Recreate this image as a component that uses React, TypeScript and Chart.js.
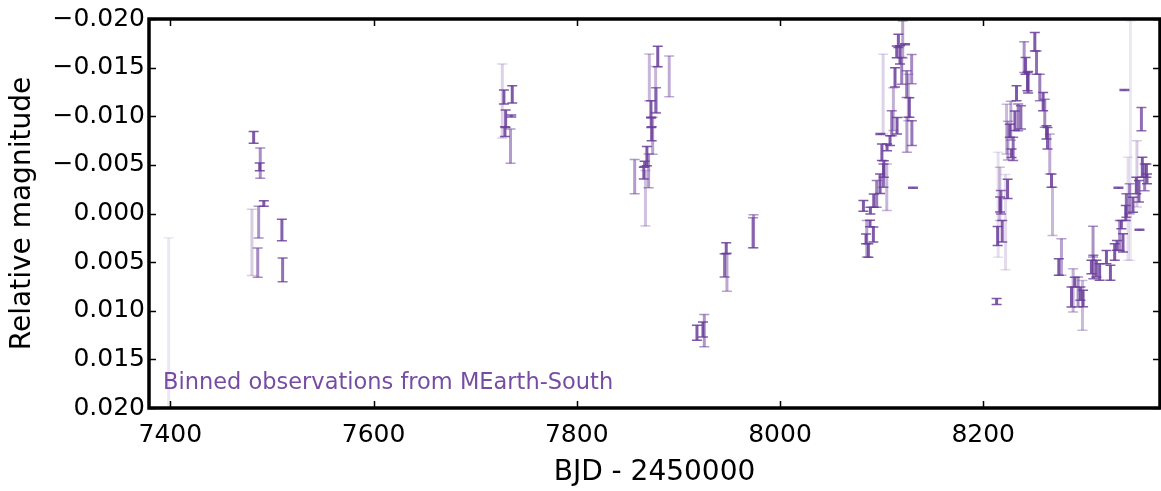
import React, { useEffect, useRef } from 'react';
import { Chart, registerables } from 'chart.js';

Chart.register(...registerables);

// Binned MEarth-South photometry: time (BJD - 2450000), relative magnitude, 1-sigma error
const BJD = [
  7398.4,
  7480.3, 7482.0, 7486.0, 7486.9, 7488.0, 7488.5, 7492.0, 7509.8, 7510.5,
  7726.7, 7728.3, 7729.3, 7730.0, 7734.8, 7735.5, 7736.5,
  7857.0, 7866.0, 7866.8, 7867.6, 7869.0, 7870.7, 7871.4, 7873.0, 7873.3, 7873.7, 7874.7, 7877.6, 7878.0, 7879.7, 7891.0,
  7918.3, 7924.2, 7925.5, 7945.5, 7947.1, 7947.8, 7973.4, 7974.0,
  8082.1, 8084.7, 8085.4, 8087.0, 8088.6, 8089.0, 8091.9, 8092.3, 8095.2, 8098.5, 8098.8, 8100.3, 8101.8, 8102.2, 8101.5,
  8105.1, 8105.4, 8108.3, 8110.0, 8111.6, 8113.2, 8114.9, 8115.2, 8116.5, 8118.1, 8119.8, 8120.8, 8123.1, 8124.7, 8124.9,
  8126.3, 8127.3, 8129.6, 8129.8, 8130.9,
  8213.2, 8214.2, 8214.7, 8216.4, 8216.6, 8217.4, 8218.7, 8222.0, 8223.0, 8224.0, 8224.3, 8226.2, 8227.2, 8227.9, 8229.5,
  8231.2, 8232.8, 8234.4, 8237.1, 8240.3, 8241.7, 8243.6, 8244.2, 8250.8, 8252.5, 8255.7, 8259.0, 8260.6, 8262.3, 8263.3,
  8265.5, 8267.2, 8268.2, 8274.4, 8277.0,
  8286.9, 8288.5, 8290.1, 8293.4, 8295.7, 8297.7, 8298.3, 8306.5, 8308.1, 8308.4, 8311.4, 8314.6, 8321.3, 8325.2, 8329.4,
  8331.7, 8333.1, 8334.3, 8336.0, 8337.6, 8339.0, 8340.3, 8340.9, 8342.5, 8344.1, 8344.9, 8347.4, 8350.7, 8351.3, 8353.3,
  8353.8, 8355.7, 8356.6, 8358.9, 8360.6, 8361.2,
];

const MAG = [
  0.0135,
  0.00297, -0.00783, 0.00506, 0.00089, -0.0048, -0.00518, -0.00103, 0.0017, 0.0058,
  -0.01156, -0.01197, -0.00841, -0.00974, -0.00692, -0.01002, -0.01224,
  -0.00378, -0.00415, -0.0051, -0.00156, -0.0059, -0.00438, -0.014, -0.01074, -0.00933, -0.0082, -0.008, -0.01275, -0.01164, -0.01615, -0.0141,
  0.01226, 0.01192, 0.01205, 0.00533, 0.00357, 0.00602, 0.00198, 0.00183,
  -0.00079, 0.0026, 0.00259, 0.0038, 0.00103, -0.0003, 0.00216, -0.00133, -0.00202, -0.00305, -0.00817, -0.00629, -0.0039, -0.00458, -0.01228,
  -0.0027, -0.0068, -0.00749, -0.00928, -0.01074, -0.014, -0.01662, -0.00903, -0.01774, -0.0163, -0.01467, -0.0179, -0.0174, -0.0133, -0.0081,
  -0.01193, -0.0109, -0.01484, -0.00826, -0.00264,
  0.00905, 0.00231, -0.0009, -0.00202, -0.00092, -0.00116, 0.00183, 0.00089, -0.00868, -0.00253, -0.00749, -0.00851, -0.00954, -0.0062, -0.00664,
  -0.00954, -0.01236, -0.00988, -0.00988, -0.01608, -0.01518, -0.01356, -0.0135, -0.01766, -0.01552, -0.01296, -0.0115, -0.01031, -0.00834, -0.00774,
  -0.00612, -0.00338, -0.00022, 0.0055, 0.00448,
  0.00858, 0.0079, 0.00705, 0.00807, 0.00824, 0.00944, 0.00875, 0.0055, 0.00289, 0.0055, 0.00567, 0.00602, 0.00448, 0.0061, 0.00397,
  0.00328, -0.00264, 0.00226, 0.00115, 0.00303, -0.01269, -0.00005, -0.00082, -0.00048, -0.00151, -0.00749, -0.0009, -0.00287, -0.00407, -0.00228,
  0.00167, -0.00971, -0.00475, -0.00372, -0.00441, -0.00356,
];

const ERR = [
  0.011,
  0.0034, 0.0006, 0.0015, 0.00164, 0.0004, 0.00156, 0.00028, 0.0011, 0.00123,
  0.0038, 0.00072, 0.0005, 0.00089, 0.00176, 0.0001, 0.00089,
  0.00176, 0.0006, 0.00026, 0.00285, 0.001, 0.00174, 0.0024, 0.00085, 0.00048, 0.00072, 0.0019, 0.00236, 0.0013, 0.00105, 0.0021,
  0.00077, 0.00077, 0.00166, 0.0012, 0.00056, 0.00197, 0.00154, 0.0017,
  0.00055, 0.0005, 0.00188, 0.0007, 0.00034, 0.00034, 0.00077, 0.00068, 0.00137, 0.001, 0.00005, 0.00085, 0.0012, 0.00085, 0.0041,
  0.0024, 0.00034, 0.0005, 0.00128, 0.0022, 0.001, 0.0006, 0.00085, 0.00068, 0.00094, 0.00137, 0.0019, 0.00005, 0.00137, 0.0018,
  0.0024, 0.001, 0.0015, 0.00128, 0.00005,
  0.0003, 0.00097, 0.0054, 0.00274, 0.00077, 0.0012, 0.0011, 0.0049, 0.00256, 0.001, 0.002, 0.00068, 0.002, 0.00043, 0.0012,
  0.001, 0.00077, 0.00137, 0.0012, 0.00159, 0.00085, 0.00094, 0.0011, 0.00094, 0.0012, 0.00137, 0.00094, 0.00145, 0.00068, 0.00111,
  0.00205, 0.00068, 0.00248, 0.00085, 0.00188,
  0.00103, 0.00222, 0.0005, 0.00154, 0.00068, 0.00256, 0.00085, 0.0007, 0.00159, 0.0012, 0.00085, 0.00085, 0.00068, 0.00077, 0.00085,
  0.0005, 0.00005, 0.00154, 0.00043, 0.00094, 0.00005, 0.00077, 0.0012, 0.0053, 0.00154, 0.0123, 0.00077, 0.00085, 0.0034, 0.00111,
  0.00005, 0.0012, 0.00103, 0.00137, 0.00068, 0.0005,
];

const X_TICKS = [7400, 7600, 7800, 8000, 8200];
const Y_TICKS = [-0.02, -0.015, -0.01, -0.005, 0, 0.005, 0.01, 0.015, 0.02];
const X_RANGE = [7379, 8374];
const Y_RANGE = [-0.02, 0.02];

const X_TITLE = 'BJD - 2450000';
const Y_TITLE = 'Relative magnitude';
const NOTE = 'Binned observations from MEarth-South';

const PURPLE = '106, 61, 154';
const FONT = "'DejaVu Sans', sans-serif";

const fmtY = (v: number) => {
  if (Math.abs(v) < 1e-12) return '0.000';
  return (v < 0 ? '\u2212' : '') + Math.abs(v).toFixed(3);
};

const errorBarPlugin = {
  id: 'errorBars',
  afterDatasetsDraw(chart: any) {
    const { ctx, chartArea: a, scales } = chart;
    const xs = scales.x;
    const ys = scales.y;
    ctx.save();
    ctx.beginPath();
    ctx.rect(a.left, a.top, a.right - a.left, a.bottom - a.top);
    ctx.clip();
    for (let i = 0; i < BJD.length; i++) {
      const px = xs.getPixelForValue(BJD[i]);
      const y1 = ys.getPixelForValue(MAG[i] - ERR[i]);
      const y2 = ys.getPixelForValue(MAG[i] + ERR[i]);
      const alpha = Math.min(0.85, Math.max(0.12, 0.0009 / ERR[i]));
      ctx.strokeStyle = `rgba(${PURPLE}, ${alpha})`;
      ctx.lineWidth = 3;
      ctx.beginPath();
      ctx.moveTo(px, y1);
      ctx.lineTo(px, y2);
      ctx.stroke();
      ctx.lineWidth = 1.5;
      ctx.beginPath();
      ctx.moveTo(px - 5, y1);
      ctx.lineTo(px + 5, y1);
      ctx.moveTo(px - 5, y2);
      ctx.lineTo(px + 5, y2);
      ctx.stroke();
    }
    ctx.restore();
  },
  afterDraw(chart: any) {
    const { ctx, chartArea: a, scales } = chart;
    const xs = scales.x;
    const ys = scales.y;
    ctx.save();
    // annotation
    ctx.fillStyle = `rgba(${PURPLE}, 0.92)`;
    ctx.font = `22.5px ${FONT}`;
    ctx.textAlign = 'left';
    ctx.textBaseline = 'alphabetic';
    ctx.fillText(NOTE, a.left + 14, a.bottom - 19);
    // inward ticks
    ctx.strokeStyle = '#000';
    ctx.lineWidth = 1.5;
    ctx.beginPath();
    for (const v of X_TICKS) {
      const px = Math.round(xs.getPixelForValue(v)) + 0.5;
      ctx.moveTo(px, a.bottom);
      ctx.lineTo(px, a.bottom - 7);
      ctx.moveTo(px, a.top);
      ctx.lineTo(px, a.top + 7);
    }
    for (const v of Y_TICKS) {
      const py = Math.round(ys.getPixelForValue(v)) + 0.5;
      ctx.moveTo(a.left, py);
      ctx.lineTo(a.left + 7, py);
      ctx.moveTo(a.right, py);
      ctx.lineTo(a.right - 7, py);
    }
    ctx.stroke();
    // frame
    ctx.lineWidth = 3.5;
    ctx.strokeRect(a.left, a.top, a.right - a.left, a.bottom - a.top);
    ctx.restore();
  },
};

export default function App() {
  const ref = useRef<HTMLCanvasElement>(null);

  useEffect(() => {
    if (!ref.current) return;
    const chart = new Chart(ref.current, {
      type: 'scatter',
      data: {
        datasets: [
          {
            label: NOTE,
            data: BJD.map((t, i) => ({ x: t, y: MAG[i] })),
            pointRadius: 0,
            pointHoverRadius: 0,
            showLine: false,
          },
        ],
      },
      options: {
        animation: false,
        responsive: false,
        devicePixelRatio: 1,
        layout: { padding: { top: 19, right: 1, bottom: 0, left: 0 } },
        plugins: { legend: { display: false }, tooltip: { enabled: false } },
        scales: {
          x: {
            type: 'linear',
            min: X_RANGE[0],
            max: X_RANGE[1],
            afterBuildTicks: (s: any) => {
              s.ticks = X_TICKS.map((v) => ({ value: v }));
            },
            afterFit: (s: any) => {
              s.height = 83;
            },
            grid: { display: false, drawTicks: false },
            border: { display: false },
            ticks: {
              color: '#000',
              font: { family: FONT, size: 25 },
              padding: 12,
              maxRotation: 0,
              autoSkip: false,
              callback: (v: any) => String(v),
            },
            title: {
              display: true,
              text: X_TITLE,
              color: '#000',
              font: { family: FONT, size: 28 },
              padding: { top: 0, bottom: 1 },
            },
          },
          y: {
            type: 'linear',
            reverse: true,
            min: Y_RANGE[0],
            max: Y_RANGE[1],
            afterBuildTicks: (s: any) => {
              s.ticks = Y_TICKS.map((v) => ({ value: v }));
            },
            afterFit: (s: any) => {
              s.width = 149;
            },
            grid: { display: false, drawTicks: false },
            border: { display: false },
            ticks: {
              color: '#000',
              font: { family: FONT, size: 25 },
              padding: 4,
              autoSkip: false,
              callback: (v: any) => fmtY(Number(v)),
            },
            title: {
              display: true,
              text: Y_TITLE,
              color: '#000',
              font: { family: FONT, size: 28 },
              padding: { top: 6, bottom: 0 },
            },
          },
        },
      },
      plugins: [errorBarPlugin],
    });
    return () => chart.destroy();
  }, []);

  return (
    <div style={{ position: 'fixed', left: 0, top: 0, width: 1161, height: 491, background: '#fff' }}>
      <canvas ref={ref} width={1161} height={491} style={{ display: 'block' }} />
    </div>
  );
}
